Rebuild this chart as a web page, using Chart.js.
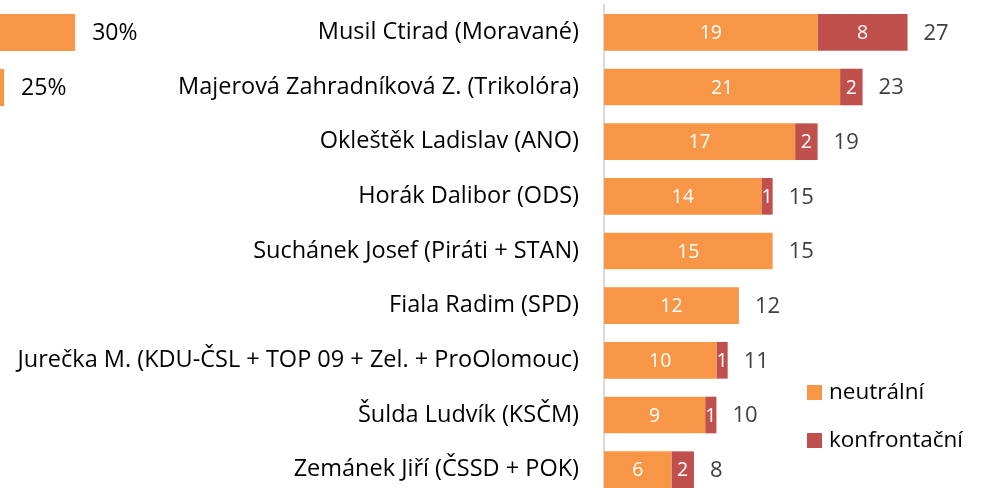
<!DOCTYPE html>
<html>
<head>
<meta charset="utf-8">
<script src="https://cdn.jsdelivr.net/npm/chart.js@4"></script>
<style>
  html, body { margin: 0; padding: 0; background: #fff; overflow: hidden; }
  #wrap { position: relative; width: 983px; height: 488px; overflow: hidden; }
  #levy { position: absolute; left: -351px; top: 0; }
  #hlavni { position: absolute; left: 0; top: 0; }
</style>
</head>
<body>
<div id="wrap">
  <canvas id="levy" width="500" height="115"></canvas>
  <canvas id="hlavni" width="983" height="500"></canvas>
</div>
<script>
const kandidati = [
  'Musil Ctirad (Moravané)',
  'Majerová Zahradníková Z. (Trikolóra)',
  'Okleštěk Ladislav (ANO)',
  'Horák Dalibor (ODS)',
  'Suchánek Josef (Piráti + STAN)',
  'Fiala Radim (SPD)',
  'Jurečka M. (KDU-ČSL + TOP 09 + Zel. + ProOlomouc)',
  'Šulda Ludvík (KSČM)',
  'Zemánek Jiří (ČSSD + POK)'
];
const neutralni = [19, 21, 17, 14, 15, 12, 10, 9, 6];
const konfrontacni = [8, 2, 2, 1, 0, 0, 1, 1, 2];

// useknutý graf vlevo nahoře
const levyPopisky = ['a', 'b'];
const levyHodnoty = [30, 25];

const ORANZ = '#F79646';
const CERV = '#C0504D';
const FONT = "'Open Sans', sans-serif";

Chart.defaults.font.family = FONT;
Chart.defaults.animation = false;

// popisky uvnitř segmentů + součty za sloupci
const popiskyPlugin = {
  id: 'popisky',
  afterDatasetsDraw(chart) {
    const ctx = chart.ctx;
    ctx.save();
    ctx.textBaseline = 'middle';
    chart.data.datasets.forEach((ds, i) => {
      const meta = chart.getDatasetMeta(i);
      meta.data.forEach((bar, j) => {
        const v = ds.data[j];
        if (!v) return;
        ctx.fillStyle = '#fff';
        ctx.font = '19.5px ' + FONT;
        ctx.textAlign = 'center';
        ctx.fillText(String(v), (bar.x + bar.base) / 2, bar.y + 1);
      });
    });
    const posledni = chart.getDatasetMeta(chart.data.datasets.length - 1);
    posledni.data.forEach((bar, j) => {
      const soucet = neutralni[j] + konfrontacni[j];
      const x = chart.scales.x.getPixelForValue(soucet);
      ctx.fillStyle = '#404040';
      ctx.font = '22px ' + FONT;
      ctx.textAlign = 'left';
      ctx.fillText(String(soucet), x + 16, bar.y + 1);
    });
    ctx.restore();
  }
};

// legenda vpravo dole
const legendaPlugin = {
  id: 'legenda',
  afterDraw(chart) {
    const ctx = chart.ctx;
    ctx.save();
    ctx.textBaseline = 'middle';
    ctx.font = '22.5px ' + FONT;
    chart.data.datasets.forEach((ds, i) => {
      const y = 392 + i * 48;
      ctx.fillStyle = ds.backgroundColor;
      ctx.fillRect(807, y - 7, 15, 15);
      ctx.fillStyle = '#000';
      ctx.textAlign = 'left';
      ctx.fillText(ds.label, 829, y + 1);
    });
    ctx.restore();
  }
};

new Chart(document.getElementById('hlavni'), {
  type: 'bar',
  data: {
    labels: kandidati,
    datasets: [
      { label: 'neutrální', data: neutralni, backgroundColor: ORANZ },
      { label: 'konfrontační', data: konfrontacni, backgroundColor: CERV }
    ]
  },
  options: {
    indexAxis: 'y',
    responsive: false,
    layout: { padding: { top: 5, bottom: 3, left: 0, right: 8 } },
    datasets: { bar: { categoryPercentage: 1, barPercentage: 0.67 } },
    scales: {
      x: { stacked: true, min: 0, max: 33, display: false },
      y: {
        stacked: true,
        grid: { display: false, drawTicks: false },
        border: { display: true, color: '#D9D9D9', width: 2 },
        ticks: { color: '#000', font: { size: 23.5 }, padding: 25 },
        afterFit(scale) {
          scale.width = 604;
          scale.paddingTop = 0;
          scale.paddingBottom = 0;
        }
      }
    },
    plugins: { legend: { display: false }, tooltip: { enabled: false } }
  },
  plugins: [popiskyPlugin, legendaPlugin]
});

new Chart(document.getElementById('levy'), {
  type: 'bar',
  data: {
    labels: levyPopisky,
    datasets: [{ data: levyHodnoty, backgroundColor: ORANZ }]
  },
  options: {
    indexAxis: 'y',
    responsive: false,
    layout: { padding: { top: 5, bottom: 0, left: 0, right: 0 } },
    datasets: { bar: { categoryPercentage: 1, barPercentage: 0.67 } },
    scales: {
      x: { min: 0, max: 35.2, display: false },
      y: { display: false }
    },
    plugins: { legend: { display: false }, tooltip: { enabled: false } }
  },
  plugins: [{
    id: 'procenta',
    afterDatasetsDraw(chart) {
      const ctx = chart.ctx;
      ctx.save();
      ctx.textBaseline = 'middle';
      ctx.textAlign = 'left';
      ctx.fillStyle = '#000';
      ctx.font = '23px ' + FONT;
      chart.getDatasetMeta(0).data.forEach((bar, j) => {
        ctx.fillText(levyHodnoty[j] + '%', bar.x + 17, bar.y + 1);
      });
      ctx.restore();
    }
  }]
});
</script>
</body>
</html>
